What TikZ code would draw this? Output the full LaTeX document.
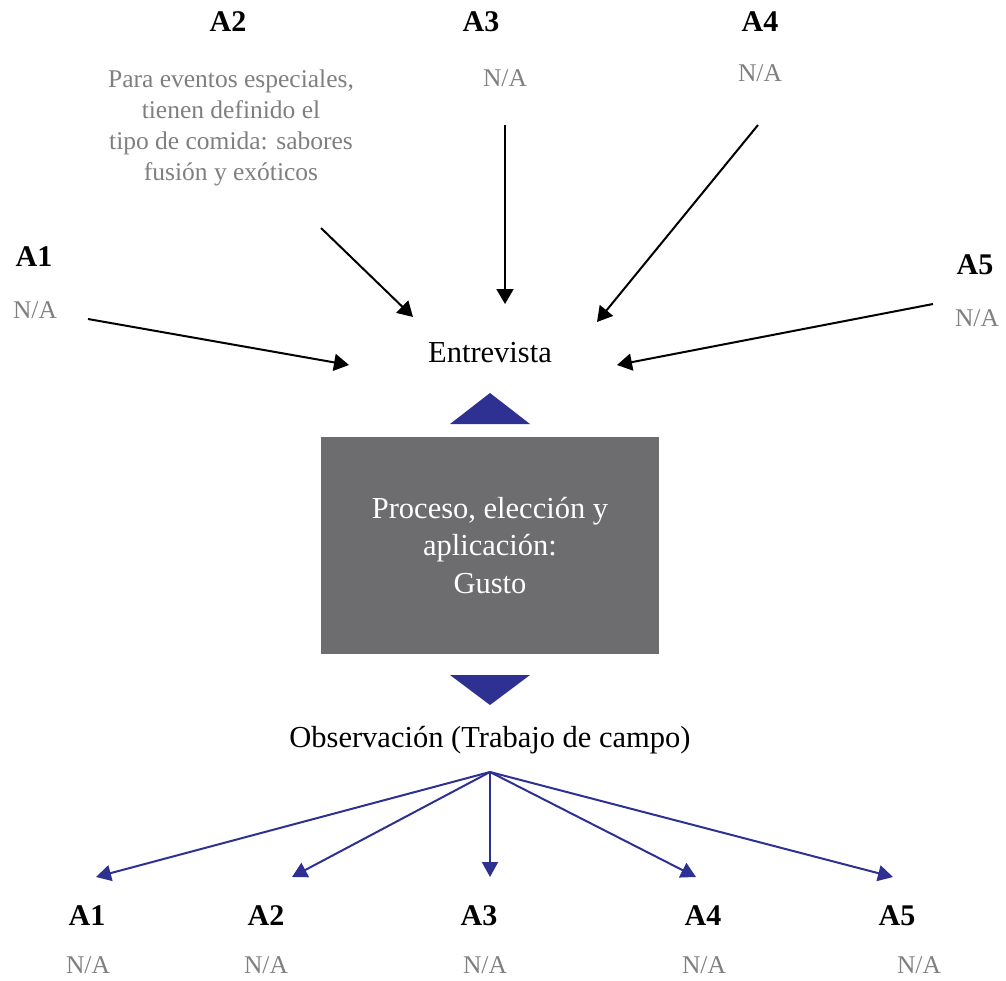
\documentclass[tikz,border=0pt]{standalone}
\usepackage{fontspec}
\setmainfont{Liberation Serif}
\usetikzlibrary{positioning,arrows.meta}

\definecolor{navyarrow}{HTML}{2E3192}
\definecolor{boxgray}{HTML}{6D6C6E}
\definecolor{notegray}{HTML}{7F7F7F}

\tikzset{
  actor/.style={font=\fontsize{30}{36}\selectfont\bfseries, inner sep=1pt},
  note/.style={text=notegray, font=\fontsize{25.5}{31}\selectfont, align=center, inner sep=1pt},
  plain/.style={font=\fontsize{30.5}{37.5}\selectfont, align=center},
  inarrow/.style={line width=2pt, -{Triangle[length=15pt,width=17pt]}},
  outarrow/.style={line width=2pt, navyarrow, -{Triangle[length=15pt,width=16pt]}},
  pointer/.style={fill=navyarrow},
}

\begin{document}
\begin{tikzpicture}[x=1pt,y=-1pt]
\useasboundingbox (0,0) rectangle (1006,980);

% upper actors
\node[actor] (tA1) at (34,257) {A1};
\node[note] (tN1) at (35,310) {N/A};
\node[actor] (tA2) at (228,22) {A2};
\node[note] (tN2) at (231,128) {Para eventos especiales,\\tienen definido el\\tipo de comida: sabores\\fusión y exóticos};
\node[actor] (tA3) at (481,22) {A3};
\node[note] (tN3) at (505,78) {N/A};
\node[actor] (tA4) at (760,22) {A4};
\node[note] (tN4) at (760,73) {N/A};
\node[actor] (tA5) at (975,265) {A5};
\node[note] (tN5) at (977,318) {N/A};

\node[plain] (interview) at (490,353) {Entrevista};

% arrow ends
\coordinate (s1) at (88,319);
\coordinate (e1) at (349,365);
\coordinate (s2) at (321,228);
\coordinate (e2) at (413,317);
\coordinate (s3) at (505,125);
\coordinate (e3) at (505,304);
\coordinate (s4) at (758,125);
\coordinate (e4) at (597,322);
\coordinate (s5) at (933,304);
\coordinate (e5) at (617,365);

\draw[inarrow] (s1) -- (e1);
\draw[inarrow] (s2) -- (e2);
\draw[inarrow] (s3) -- (e3);
\draw[inarrow] (s4) -- (e4);
\draw[inarrow] (s5) -- (e5);

% centre
\fill[pointer] (450,424) -- (530,424) -- (490,393) -- cycle;
\node[plain, fill=boxgray, text=white, minimum width=338pt, minimum height=217pt, inner sep=0pt] (process) at (490,545.5) {Proceso, elección y\\aplicación:\\Gusto};
\fill[pointer] (450,675) -- (530,675) -- (490,705) -- cycle;

\node[plain] (fieldwork) at (490,740) {Observación (Trabajo de campo)};

% lower actors
\coordinate (hub) at (490,772);
\coordinate (b1) at (96,877);
\coordinate (b2) at (292,877);
\coordinate (b3) at (490,877);
\coordinate (b4) at (696,877);
\coordinate (b5) at (893,877);

\draw[outarrow] (hub) -- (b1);
\draw[outarrow] (hub) -- (b2);
\draw[outarrow] (hub) -- (b3);
\draw[outarrow] (hub) -- (b4);
\draw[outarrow] (hub) -- (b5);

\node[actor] (bA1) at (87,916) {A1};
\node[actor] (bA2) at (266,916) {A2};
\node[actor] (bA3) at (479,916) {A3};
\node[actor] (bA4) at (703,916) {A4};
\node[actor] (bA5) at (897,916) {A5};
\node[note] (bN1) at (88,965) {N/A};
\node[note] (bN2) at (266,965) {N/A};
\node[note] (bN3) at (485,965) {N/A};
\node[note] (bN4) at (704,965) {N/A};
\node[note] (bN5) at (919,965) {N/A};
\end{tikzpicture}
\end{document}
